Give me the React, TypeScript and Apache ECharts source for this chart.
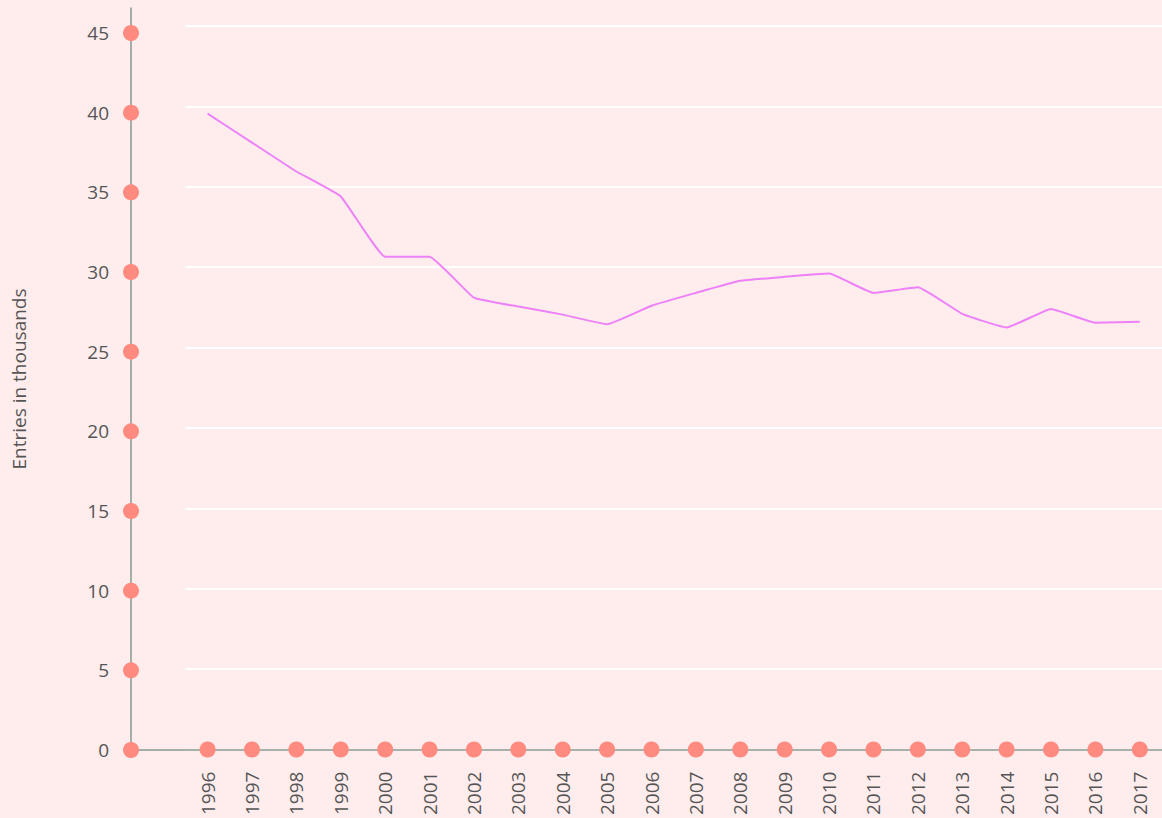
import React, { useEffect, useRef } from "react";
import * as echarts from "echarts";

const years: string[] = [
  "1996", "1997", "1998", "1999", "2000", "2001", "2002", "2003", "2004", "2005", "2006",
  "2007", "2008", "2009", "2010", "2011", "2012", "2013", "2014", "2015", "2016", "2017",
];
const entries: number[] = [
  39.55, 37.75, 35.95, 34.4, 30.65, 30.65, 28.1, 27.55, 27.05, 26.45, 27.6,
  28.4, 29.15, 29.4, 29.6, 28.4, 28.75, 27.1, 26.25, 27.4, 26.55, 26.6,
];
const yTicks: number[] = [0, 5, 10, 15, 20, 25, 30, 35, 40, 45];
const yName = "Entries in thousands";

const FONT = "'Open Sans', 'Noto Sans', sans-serif";
const FS = 19;
const DOT = "#FF8A80";
const AXIS = "#86998f";
const TEXT = "#555555";

export default function App() {
  const ref = useRef<HTMLDivElement>(null);
  useEffect(() => {
    document.body.style.margin = "0";
    if (!ref.current) return;
    const chart = echarts.init(ref.current, undefined, { renderer: "svg" });
    chart.setOption({
      animation: false,
      backgroundColor: "#FFEDED",
      textStyle: { fontFamily: FONT },
      grid: [
        { left: 185.4, top: 26, width: 981, height: 724 },
        { left: 131, top: 8, right: 0, height: 742 },
      ],
      xAxis: [
        {
          type: "category",
          gridIndex: 0,
          data: years,
          boundaryGap: true,
          axisLine: { show: false },
          axisTick: { show: false },
          axisLabel: {
            rotate: 90,
            margin: 22,
            fontSize: FS,
            color: TEXT,
            fontFamily: FONT,
            interval: 0,
          },
          splitLine: { show: false },
        },
        {
          type: "value",
          gridIndex: 1,
          min: 0,
          max: 1,
          axisLine: { show: true, lineStyle: { color: AXIS, width: 1.5 } },
          axisTick: { show: false },
          axisLabel: { show: false },
          splitLine: { show: false },
        },
      ],
      yAxis: [
        {
          type: "value",
          gridIndex: 0,
          min: 0,
          max: 45,
          interval: 5,
          axisLine: { show: false },
          axisTick: { show: false },
          axisLabel: { show: false },
          splitLine: { show: true, lineStyle: { color: "#ffffff", width: 2 } },
        },
        {
          type: "value",
          gridIndex: 1,
          min: 0,
          max: 46.57,
          interval: 5,
          name: yName,
          nameLocation: "middle",
          nameGap: 103,
          nameTextStyle: { fontSize: FS, color: TEXT, fontFamily: FONT },
          axisLine: { show: true, lineStyle: { color: AXIS, width: 1.5 } },
          axisTick: { show: false },
          axisLabel: {
            margin: 22,
            fontSize: FS,
            color: TEXT,
            fontFamily: FONT,
            showMaxLabel: false,
            formatter: (v: number) => (yTicks.indexOf(v) >= 0 ? String(v) : ""),
          },
          splitLine: { show: false },
        },
      ],
      series: [
        {
          type: "line",
          xAxisIndex: 0,
          yAxisIndex: 0,
          data: entries,
          smooth: 0.1,
          symbol: "none",
          lineStyle: { color: "#EE80F8", width: 2 },
          z: 3,
        },
        {
          type: "scatter",
          xAxisIndex: 0,
          yAxisIndex: 0,
          data: years.map(() => 0),
          symbol: "circle",
          symbolSize: 16,
          itemStyle: { color: DOT, opacity: 1 },
          clip: false,
          z: 5,
        },
        {
          type: "scatter",
          xAxisIndex: 1,
          yAxisIndex: 1,
          data: yTicks.map((v) => [0, v]),
          symbol: "circle",
          symbolSize: 16,
          itemStyle: { color: DOT, opacity: 1 },
          clip: false,
          z: 5,
        },
      ],
    });
    return () => chart.dispose();
  }, []);
  return <div ref={ref} style={{ width: 1162, height: 818 }} />;
}
